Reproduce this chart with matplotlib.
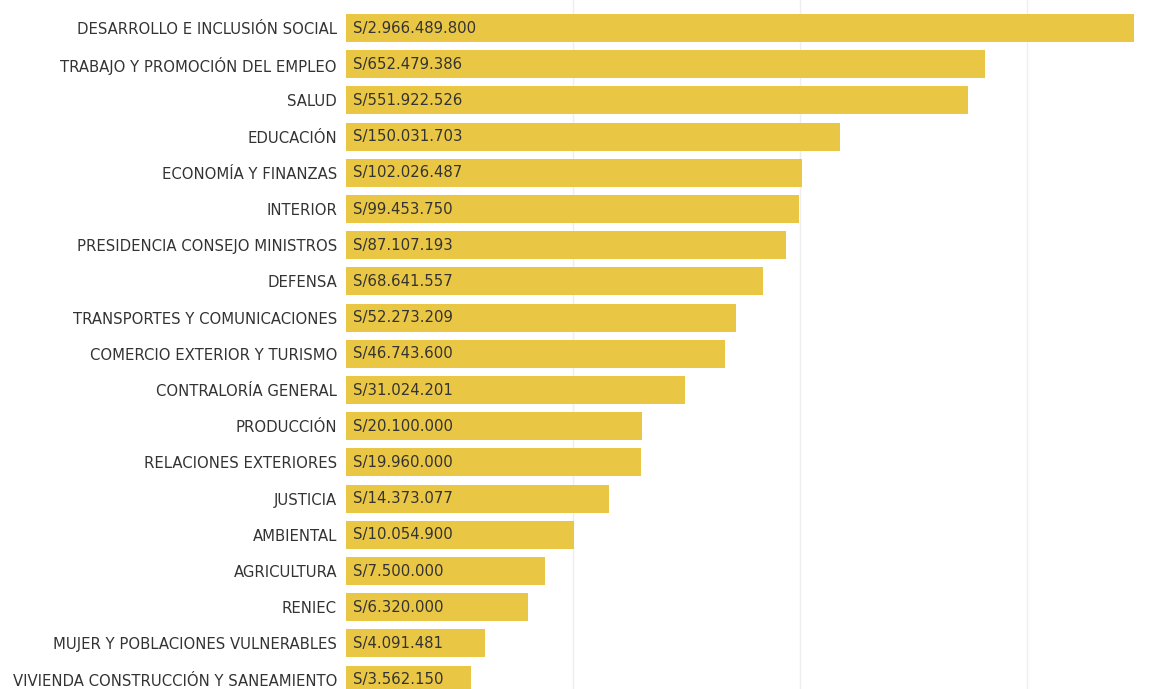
import matplotlib
matplotlib.use("Agg")
import matplotlib.pyplot as plt
import numpy as np

categories = [
    "DESARROLLO E INCLUSIÓN SOCIAL",
    "TRABAJO Y PROMOCIÓN DEL EMPLEO",
    "SALUD",
    "EDUCACIÓN",
    "ECONOMÍA Y FINANZAS",
    "INTERIOR",
    "PRESIDENCIA CONSEJO MINISTROS",
    "DEFENSA",
    "TRANSPORTES Y COMUNICACIONES",
    "COMERCIO EXTERIOR Y TURISMO",
    "CONTRALORÍA GENERAL",
    "PRODUCCIÓN",
    "RELACIONES EXTERIORES",
    "JUSTICIA",
    "AMBIENTAL",
    "AGRICULTURA",
    "RENIEC",
    "MUJER Y POBLACIONES VULNERABLES",
    "VIVIENDA CONSTRUCCIÓN Y SANEAMIENTO",
]
values = [
    2966489800, 652479386, 551922526, 150031703, 102026487, 99453750,
    87107193, 68641557, 52273209, 46743600, 31024201, 20100000,
    19960000, 14373077, 10054900, 7500000, 6320000, 4091481, 3562150,
]
labels = ["S/" + f"{v:,}".replace(",", ".") for v in values]

plt.rcParams["font.family"] = ["DejaVu Sans"]

W, H = 1156, 689
fig = plt.figure(figsize=(W / 100, H / 100), dpi=100)
left_px = 346
ax = fig.add_axes([left_px / W, 0, 1 - left_px / W, 1])
decade = 227.0
base = 10 ** (7 - (573 - left_px) / decade)
ax.set_xscale("log")
ax.set_xlim(base, base * 10 ** ((W - left_px) / decade))
row = 36.2
ax.set_ylim((H - 28) / row, -28 / row)

fs = 10.7
y = np.arange(len(categories))
ax.barh(y, np.array(values, dtype=float) - base, left=base,
        height=28 / row, color="#EAC645", zorder=2)
for yi, lab in zip(y, labels):
    ax.annotate(lab, xy=(base, yi), xytext=(5, 0), textcoords="offset points",
                ha="left", va="center", fontsize=fs, color="#333333", zorder=3)

ax.set_yticks(y)
ax.set_yticklabels(categories, fontsize=fs, color="#333333")
ax.tick_params(axis="y", length=0, pad=6.5)
ax.tick_params(axis="x", length=0, labelbottom=False, which="both")
ax.set_xticks([1e7, 1e8, 1e9])
ax.set_xticks([], minor=True)
ax.grid(axis="x", color="#eeeeee", linewidth=1, zorder=0)
for s in ax.spines.values():
    s.set_visible(False)

fig.savefig("out.png", dpi=100)
